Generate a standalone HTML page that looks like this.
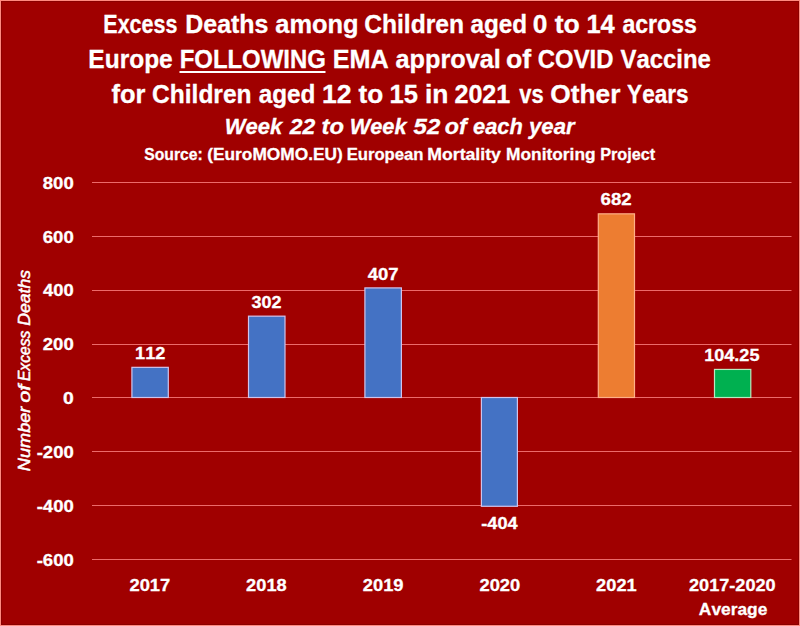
<!DOCTYPE html>
<html><head><meta charset="utf-8">
<style>
html,body{margin:0;padding:0;background:#a00000;}
body{width:800px;height:626px;overflow:hidden;}
svg{display:block;}
text{font-family:"Liberation Sans",sans-serif;fill:#fff;font-kerning:none;stroke:#fff;stroke-width:0.3px;}
</style></head><body>
<svg width="800" height="626" viewBox="0 0 800 626">
<rect x="0" y="0" width="800" height="626" fill="#a00000"/>
<rect x="0.5" y="0.5" width="799" height="625" fill="none" stroke="#ff8a80" stroke-width="1"/>
<rect x="1.5" y="1.5" width="797" height="623" fill="none" stroke="#8a0000" stroke-width="1"/>
<text x="103.31" y="33" font-size="25.4" font-weight="bold" textLength="74.07" lengthAdjust="spacingAndGlyphs">Excess</text>
<text x="185.23" y="33" font-size="25.4" font-weight="bold" textLength="83.30" lengthAdjust="spacingAndGlyphs">Deaths</text>
<text x="275.26" y="33" font-size="25.4" font-weight="bold" textLength="83.35" lengthAdjust="spacingAndGlyphs">among</text>
<text x="364.19" y="33" font-size="25.4" font-weight="bold" textLength="99.84" lengthAdjust="spacingAndGlyphs">Children</text>
<text x="470.54" y="33" font-size="25.4" font-weight="bold" textLength="56.66" lengthAdjust="spacingAndGlyphs">aged</text>
<text x="532.71" y="33" font-size="25.4" font-weight="bold" textLength="14.62" lengthAdjust="spacingAndGlyphs">0</text>
<text x="554.68" y="33" font-size="25.4" font-weight="bold" textLength="25.11" lengthAdjust="spacingAndGlyphs">to</text>
<text x="586.40" y="33" font-size="25.4" font-weight="bold" textLength="28.34" lengthAdjust="spacingAndGlyphs">14</text>
<text x="622.42" y="33" font-size="25.4" font-weight="bold" textLength="74.53" lengthAdjust="spacingAndGlyphs">across</text>
<text x="88.36" y="68" font-size="25.4" font-weight="bold" textLength="84.38" lengthAdjust="spacingAndGlyphs">Europe</text>
<text x="179.65" y="68" font-size="25.4" font-weight="bold" textLength="146.24" lengthAdjust="spacingAndGlyphs">FOLLOWING</text>
<text x="332.71" y="68" font-size="25.4" font-weight="bold" textLength="56.05" lengthAdjust="spacingAndGlyphs">EMA</text>
<text x="395.51" y="68" font-size="25.4" font-weight="bold" textLength="105.28" lengthAdjust="spacingAndGlyphs">approval</text>
<text x="505.96" y="68" font-size="25.4" font-weight="bold" textLength="25.24" lengthAdjust="spacingAndGlyphs">of</text>
<text x="537.77" y="68" font-size="25.4" font-weight="bold" textLength="75.74" lengthAdjust="spacingAndGlyphs">COVID</text>
<text x="620.44" y="68" font-size="25.4" font-weight="bold" textLength="90.38" lengthAdjust="spacingAndGlyphs">Vaccine</text>
<text x="111.47" y="103.3" font-size="25.4" font-weight="bold" textLength="33.92" lengthAdjust="spacingAndGlyphs">for</text>
<text x="152.09" y="103.3" font-size="25.4" font-weight="bold" textLength="99.43" lengthAdjust="spacingAndGlyphs">Children</text>
<text x="258.69" y="103.3" font-size="25.4" font-weight="bold" textLength="56.66" lengthAdjust="spacingAndGlyphs">aged</text>
<text x="322.07" y="103.3" font-size="25.4" font-weight="bold" textLength="29.59" lengthAdjust="spacingAndGlyphs">12</text>
<text x="358.43" y="103.3" font-size="25.4" font-weight="bold" textLength="24.69" lengthAdjust="spacingAndGlyphs">to</text>
<text x="389.49" y="103.3" font-size="25.4" font-weight="bold" textLength="28.42" lengthAdjust="spacingAndGlyphs">15</text>
<text x="424.95" y="103.3" font-size="25.4" font-weight="bold" textLength="23.48" lengthAdjust="spacingAndGlyphs">in</text>
<text x="454.43" y="103.3" font-size="25.4" font-weight="bold" textLength="55.87" lengthAdjust="spacingAndGlyphs">2021</text>
<text x="519.21" y="103.3" font-size="25.4" font-weight="bold" textLength="24.38" lengthAdjust="spacingAndGlyphs">vs</text>
<text x="550.32" y="103.3" font-size="25.4" font-weight="bold" textLength="70.08" lengthAdjust="spacingAndGlyphs">Other</text>
<text x="627.11" y="103.3" font-size="25.4" font-weight="bold" textLength="61.41" lengthAdjust="spacingAndGlyphs">Years</text>
<text x="224.64" y="134.4" font-size="22.6" font-weight="bold" font-style="italic" textLength="57.55" lengthAdjust="spacingAndGlyphs">Week</text>
<text x="289.76" y="134.4" font-size="22.6" font-weight="bold" font-style="italic" textLength="25.48" lengthAdjust="spacingAndGlyphs">22</text>
<text x="321.51" y="134.4" font-size="22.6" font-weight="bold" font-style="italic" textLength="22.36" lengthAdjust="spacingAndGlyphs">to</text>
<text x="349.65" y="134.4" font-size="22.6" font-weight="bold" font-style="italic" textLength="56.94" lengthAdjust="spacingAndGlyphs">Week</text>
<text x="413.52" y="134.4" font-size="22.6" font-weight="bold" font-style="italic" textLength="26.73" lengthAdjust="spacingAndGlyphs">52</text>
<text x="444.89" y="134.4" font-size="22.6" font-weight="bold" font-style="italic" textLength="21.93" lengthAdjust="spacingAndGlyphs">of</text>
<text x="473.08" y="134.4" font-size="22.6" font-weight="bold" font-style="italic" textLength="49.74" lengthAdjust="spacingAndGlyphs">each</text>
<text x="529.02" y="134.4" font-size="22.6" font-weight="bold" font-style="italic" textLength="45.57" lengthAdjust="spacingAndGlyphs">year</text>
<text x="144.30" y="159.5" font-size="16.8" font-weight="bold" textLength="58.46" lengthAdjust="spacingAndGlyphs">Source:</text>
<text x="207.24" y="159.5" font-size="16.8" font-weight="bold" textLength="135.52" lengthAdjust="spacingAndGlyphs">(EuroMOMO.EU)</text>
<text x="346.63" y="159.5" font-size="16.8" font-weight="bold" textLength="76.90" lengthAdjust="spacingAndGlyphs">European</text>
<text x="427.32" y="159.5" font-size="16.8" font-weight="bold" textLength="73.53" lengthAdjust="spacingAndGlyphs">Mortality</text>
<text x="506.14" y="159.5" font-size="16.8" font-weight="bold" textLength="89.42" lengthAdjust="spacingAndGlyphs">Monitoring</text>
<text x="600.16" y="159.5" font-size="16.8" font-weight="bold" textLength="55.03" lengthAdjust="spacingAndGlyphs">Project</text>
<rect x="179.5" y="71" width="146" height="2" fill="#fff"/>
<g fill="#ec6a6a">
<rect x="92" y="182" width="699.5" height="1"/>
<rect x="92" y="236" width="699.5" height="1"/>
<rect x="92" y="290" width="699.5" height="1"/>
<rect x="92" y="344" width="699.5" height="1"/>
<rect x="92" y="397" width="699.5" height="1"/>
<rect x="92" y="451" width="699.5" height="1"/>
<rect x="92" y="505" width="699.5" height="1"/>
<rect x="92" y="559" width="699.5" height="1"/>
</g>
<rect x="131.9" y="367.34" width="36.40" height="30.16" fill="#4472c4" stroke="#d0c4ec" stroke-width="1.2"/>
<rect x="248.5" y="316.17" width="36.50" height="81.33" fill="#4472c4" stroke="#d0c4ec" stroke-width="1.2"/>
<rect x="364.9" y="287.90" width="36.50" height="109.60" fill="#4472c4" stroke="#d0c4ec" stroke-width="1.2"/>
<rect x="481.4" y="397.50" width="36.00" height="108.79" fill="#4472c4" stroke="#d0c4ec" stroke-width="1.2"/>
<rect x="598.3" y="213.84" width="36.20" height="183.66" fill="#ed7d31" stroke="#ffb088" stroke-width="1.2"/>
<rect x="714.5" y="369.43" width="36.30" height="28.07" fill="#00b050" stroke="#b8ecc0" stroke-width="1.2"/>
<text x="42.81" y="188.67" font-size="17.4" font-weight="bold" textLength="30.95" lengthAdjust="spacingAndGlyphs">800</text>
<text x="42.72" y="242.53" font-size="17.4" font-weight="bold" textLength="31.04" lengthAdjust="spacingAndGlyphs">600</text>
<text x="43.12" y="296.38" font-size="17.4" font-weight="bold" textLength="30.63" lengthAdjust="spacingAndGlyphs">400</text>
<text x="42.76" y="350.24" font-size="17.4" font-weight="bold" textLength="31.01" lengthAdjust="spacingAndGlyphs">200</text>
<text x="63.03" y="404.1" font-size="17.4" font-weight="bold" textLength="10.76" lengthAdjust="spacingAndGlyphs">0</text>
<text x="36.68" y="457.96" font-size="17.4" font-weight="bold" textLength="37.08" lengthAdjust="spacingAndGlyphs">-200</text>
<text x="36.68" y="511.82" font-size="17.4" font-weight="bold" textLength="37.08" lengthAdjust="spacingAndGlyphs">-400</text>
<text x="36.68" y="565.67" font-size="17.4" font-weight="bold" textLength="37.08" lengthAdjust="spacingAndGlyphs">-600</text>
<text x="135.11" y="358.7" font-size="17.4" font-weight="bold" textLength="30.32" lengthAdjust="spacingAndGlyphs">112</text>
<text x="251.59" y="307.5" font-size="17.4" font-weight="bold" textLength="30.03" lengthAdjust="spacingAndGlyphs">302</text>
<text x="367.82" y="279.9" font-size="17.4" font-weight="bold" textLength="30.79" lengthAdjust="spacingAndGlyphs">407</text>
<text x="481.29" y="529.1" font-size="17.4" font-weight="bold" textLength="36.31" lengthAdjust="spacingAndGlyphs">-404</text>
<text x="600.57" y="205.2" font-size="17.4" font-weight="bold" textLength="31.08" lengthAdjust="spacingAndGlyphs">682</text>
<text x="704.16" y="361.3" font-size="17.4" font-weight="bold" textLength="55.34" lengthAdjust="spacingAndGlyphs">104.25</text>
<text x="129.46" y="591" font-size="17.4" font-weight="bold" textLength="40.84" lengthAdjust="spacingAndGlyphs">2017</text>
<text x="246.14" y="591" font-size="17.4" font-weight="bold" textLength="40.59" lengthAdjust="spacingAndGlyphs">2018</text>
<text x="362.80" y="591" font-size="17.4" font-weight="bold" textLength="40.71" lengthAdjust="spacingAndGlyphs">2019</text>
<text x="479.46" y="591" font-size="17.4" font-weight="bold" textLength="40.79" lengthAdjust="spacingAndGlyphs">2020</text>
<text x="596.14" y="591" font-size="17.4" font-weight="bold" textLength="40.54" lengthAdjust="spacingAndGlyphs">2021</text>
<text x="688.97" y="591.3" font-size="17.4" font-weight="bold" textLength="86.67" lengthAdjust="spacingAndGlyphs">2017-2020</text>
<text x="698.87" y="614.7" font-size="17.4" font-weight="bold" textLength="68.42" lengthAdjust="spacingAndGlyphs">Average</text>
<g transform="translate(29.7,471) rotate(-90)"><text x="-0.16" y="0" font-size="17.2" font-style="italic" textLength="64.55" lengthAdjust="spacingAndGlyphs" style="stroke-width:0.5px">Number</text><text x="68.29" y="0" font-size="17.2" font-style="italic" textLength="18.04" lengthAdjust="spacingAndGlyphs" style="stroke-width:0.5px">of</text><text x="89.92" y="0" font-size="17.2" font-style="italic" textLength="50.40" lengthAdjust="spacingAndGlyphs" style="stroke-width:0.5px">Excess</text><text x="145.26" y="0" font-size="17.2" font-style="italic" textLength="55.90" lengthAdjust="spacingAndGlyphs" style="stroke-width:0.5px">Deaths</text></g>
</svg>
</body></html>
